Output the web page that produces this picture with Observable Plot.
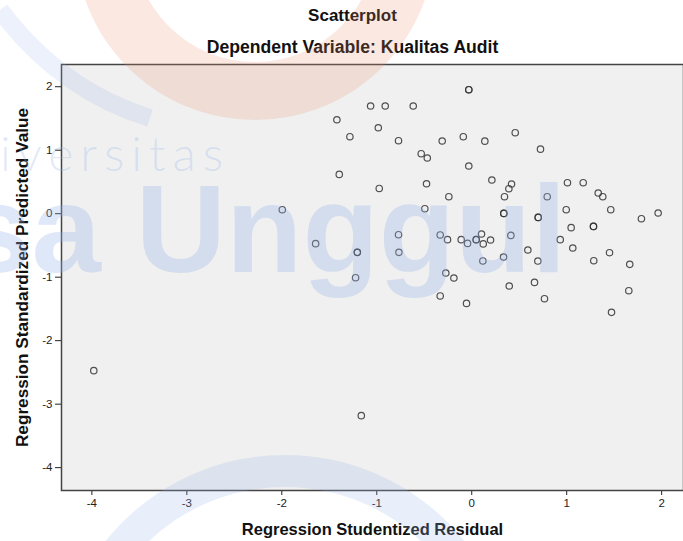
<!DOCTYPE html>
<html>
<head>
<meta charset="utf-8">
<script src="https://cdn.jsdelivr.net/npm/d3@7"></script>
<script src="https://cdn.jsdelivr.net/npm/@observablehq/plot@0.6"></script>
<style>
  body { margin: 0; background: #fff; font-family: "Liberation Sans", Arial, sans-serif; }
  #wrap { position: relative; width: 683px; height: 541px; overflow: hidden; }
  .ttl { position: absolute; left: 0; width: 705px; text-align: center; font-weight: bold; color: #111; white-space: nowrap; }
  #t1 { top: 6px; font-size: 17px; }
  #t2 { top: 37px; font-size: 17.6px; }
  #chart { position: absolute; left: 0; top: 60px; }
  #wm { position: absolute; left: 0; top: 0; pointer-events: none; }
  #chart g[aria-label="x-axis label"] text { font-weight: bold; font-size: 16.5px; fill: #111; }
  #chart g[aria-label="y-axis label"] text { font-weight: bold; font-size: 17.2px; fill: #111; }
</style>
</head>
<body>
<div id="wrap">
  <div class="ttl" id="t1">Scatterplot</div>
  <div class="ttl" id="t2">Dependent Variable: Kualitas Audit</div>
  <div id="chart"></div>
  <svg id="wm" width="683" height="541"></svg>
</div>
<script>
// Regression Studentized Residual (x) and Regression Standardized Predicted Value (y)
const residual = [
  -3.98, -1.995, -1.644, -1.205, -1.205, -1.223, -1.163, -0.771, -0.767, -0.494,
  -0.241, -0.974, -0.332, -0.255, -0.111, -0.044, -0.273, -0.188, -0.332, -0.055,
  -0.031, 0.212, 0.419, 0.391, 0.345, 0.795, 0.338, 0.338, 0.700, 0.700,
  1.008, 1.174, 1.332, 1.380, 0.995, 1.464, 1.787, 1.963, 1.047, 1.282,
  1.282, 0.932, 1.064, 1.451, 1.285, 1.664, 1.654, 1.472, 0.047, 0.047,
  0.103, 0.121, 0.198, 0.412, 0.335, 0.117, 0.591, 0.696, 0.395, 0.661,
  0.766, -0.031, -0.031, -1.065, -0.911, -0.616, -1.420, -0.984, -1.283, -0.771,
  -0.311, -0.089, -0.532, -0.468, -1.395, -0.476, 0.138, 0.458, 0.724
];
const predicted = [
  -2.472, 0.063, -0.472, -0.609, -0.609, -1.008, -3.181, -0.331, -0.609, 0.079,
  0.268, 0.398, -0.335, -0.409, -0.409, -0.468, -0.934, -1.013, -1.296, -1.413,
  0.751, 0.531, 0.468, 0.394, 0.268, 0.268, 0.005, 0.005, -0.058, -0.058,
  0.488, 0.488, 0.326, 0.268, 0.063, 0.063, -0.079, 0.011, -0.220, -0.200,
  -0.200, -0.409, -0.540, -0.614, -0.740, -0.798, -1.213, -1.554, -0.409, -0.409,
  -0.320, -0.476, -0.414, -0.342, -0.682, -0.744, -0.572, -0.746, -1.139, -1.082,
  -1.339, 1.953, 1.953, 1.696, 1.696, 1.696, 1.480, 1.354, 1.213, 1.150,
  1.145, 1.213, 0.945, 0.877, 0.619, 0.472, 1.143, 1.276, 1.017
];
const xTicks = [-4, -3, -2, -1, 0, 1, 2];
const yTicks = [2, 1, 0, -1, -2, -3, -4];
const xLabel = "Regression Studentized Residual";
const yLabel = "Regression Standardized Predicted Value";

const points = residual.map((r, i) => ({x: r, y: predicted[i]}));
const fmt = d => String(d);

const plot = Plot.plot({
  width: 683,
  height: 481,
  marginTop: 4,
  marginBottom: 51,
  marginLeft: 61,
  marginRight: 0,
  style: {fontFamily: '"Liberation Sans", Arial, sans-serif', fontSize: "11.5px", color: "#222", background: "transparent"},
  x: {domain: [-4.32, 2.23], ticks: xTicks, tickFormat: fmt, tickSize: 5, tickPadding: 3, label: xLabel, labelAnchor: "center", labelOffset: 44, labelArrow: "none"},
  y: {domain: [-4.36, 2.35], ticks: yTicks, tickFormat: fmt, tickSize: 6, tickPadding: 3, label: yLabel, labelAnchor: "center", labelOffset: 46, labelArrow: "none"},
  marks: [
    Plot.frame({fill: "#f0f0f0", stroke: null}),
    Plot.dot(points, {x: "x", y: "y", r: 3.2, stroke: "#333", strokeOpacity: 0.85, strokeWidth: 1.2, fill: "none"}),
    Plot.frame({stroke: "#444", strokeWidth: 1.5})
  ]
});
document.getElementById("chart").appendChild(plot);

// faint logo watermark over the picture
const wm = d3.select("#wm");
const blue = "rgb(150,180,232)";
function annulus(cx, cy, r1, r2) {
  return `M${cx - r1},${cy}a${r1},${r1} 0 1,0 ${2 * r1},0a${r1},${r1} 0 1,0 ${-2 * r1},0Z` +
         `M${cx - r2},${cy}a${r2},${r2} 0 1,1 ${2 * r2},0a${r2},${r2} 0 1,1 ${-2 * r2},0Z`;
}
wm.append("path").attr("d", annulus(255, -60, 180, 122)).attr("fill", "rgb(232,140,105)").attr("fill-opacity", 0.2).attr("fill-rule", "evenodd");
wm.append("path").attr("d", annulus(285, 685, 230, 198)).attr("fill", blue).attr("fill-opacity", 0.22).attr("fill-rule", "evenodd");
wm.append("path").attr("d", "M0,10 Q60,90 150,118").attr("stroke", blue).attr("stroke-opacity", 0.18).attr("stroke-width", 18).attr("fill", "none");
wm.append("text").attr("x", 0).attr("y", 171).attr("font-size", 48).attr("font-weight", 300)
  .attr("font-family", "Lato, 'Open Sans', sans-serif").attr("letter-spacing", 7)
  .attr("fill", blue).attr("fill-opacity", 0.28).text("iversitas");
wm.append("text").attr("x", -38).attr("y", 272).attr("font-size", 125).attr("font-weight", "bold")
  .attr("font-family", "'Liberation Sans', Arial, sans-serif")
  .attr("fill", blue).attr("fill-opacity", 0.3).text("sa Unggul");
</script>
</body>
</html>
